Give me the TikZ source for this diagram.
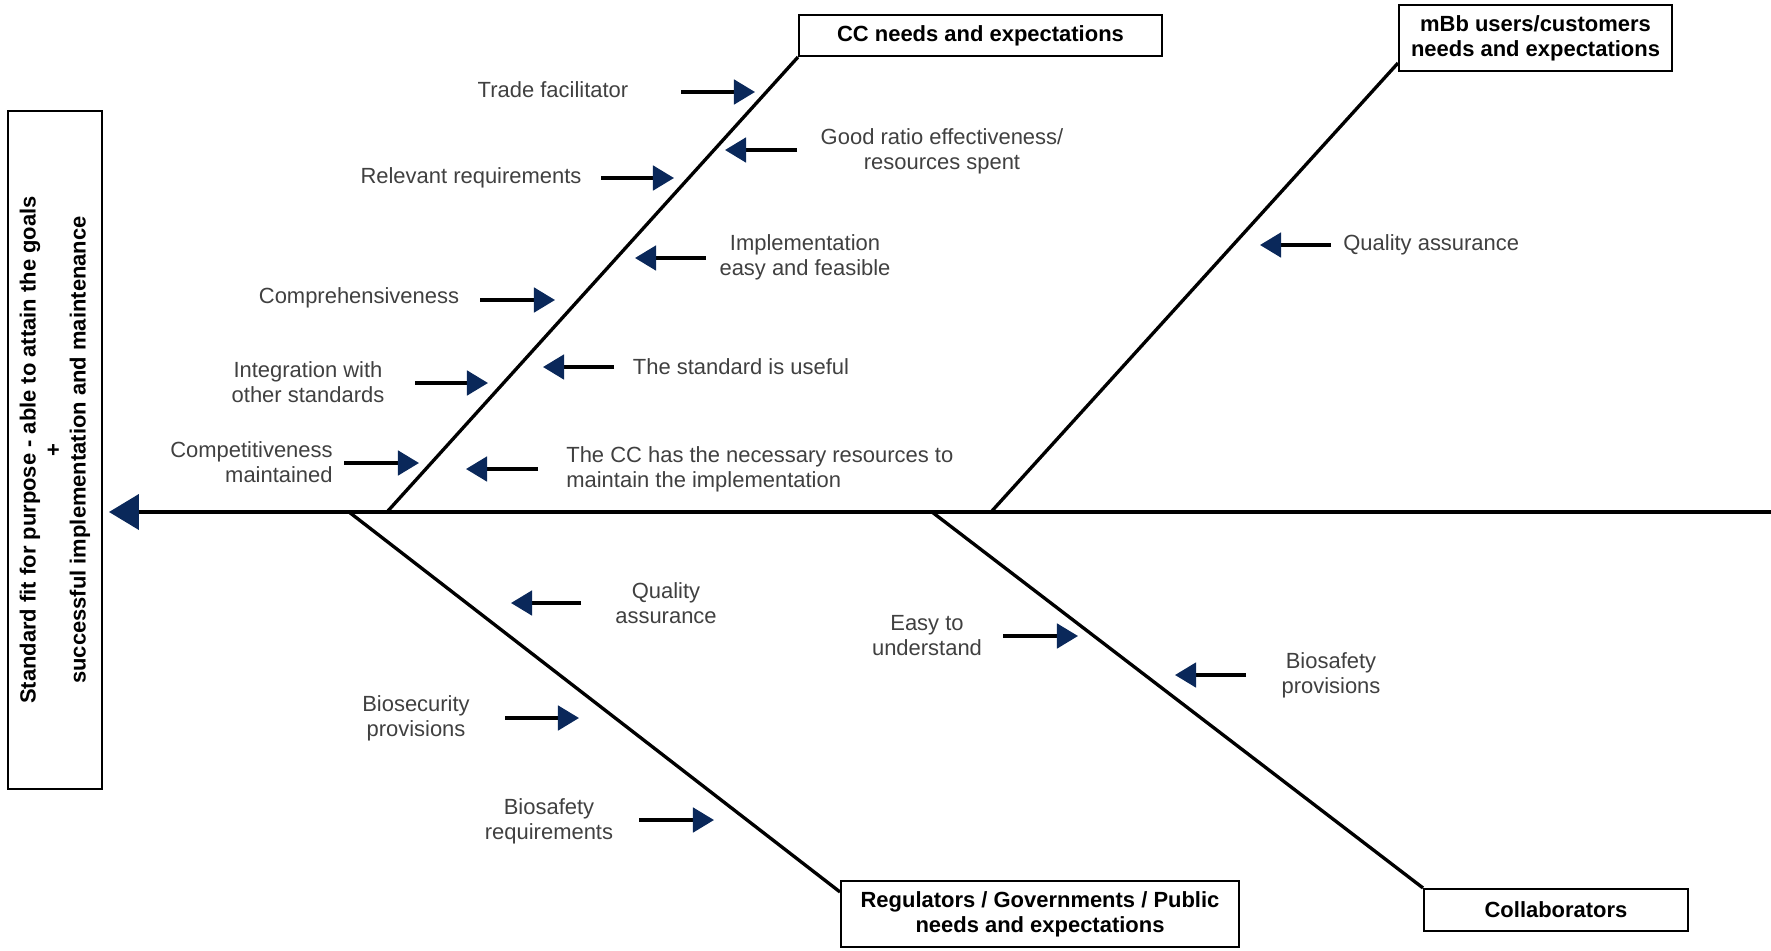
\documentclass[tikz,border=0pt]{standalone}
\usepackage{fontspec}
\setsansfont{Liberation Sans}
\usetikzlibrary{arrows.meta}

\definecolor{navy}{RGB}{10,40,90}

\begin{document}
\begin{tikzpicture}[
    x=0.02cm, y=-0.02cm,
    cause/.style={font=\sffamily\fontsize{12.5}{14.2}\selectfont, text=black!75, align=center, inner sep=0pt},
    group/.style={draw, line width=1.2pt, font=\sffamily\bfseries\fontsize{12.5}{14.2}\selectfont, align=center, inner sep=0pt},
    bone/.style={line width=1.9pt},
    push/.style={-{Triangle[length=12pt, width=14pt, color=navy]}, line width=1.8pt}
]
\useasboundingbox (0,0) rectangle (1771,950);

% effect box and spine
\node[group, rotate=90, minimum width=13.58cm, minimum height=1.88cm] (goal) at (55,450)
    {Standard fit for purpose - able to attain the goals\\+\\successful implementation and maintenance};
\coordinate (tip) at (109,512);
\coordinate (tail) at (1771,512);
\draw[bone, -{Triangle[length=17pt, width=20pt, color=navy]}] (tail) -- (tip);

% category boxes
\node[group, minimum width=7.26cm, minimum height=0.82cm] (cc) at (980.5,35.5) {CC needs and expectations};
\node[group, minimum width=5.46cm, minimum height=1.32cm] (mbb) at (1535.5,38) {mBb users/customers\\needs and expectations};
\node[group, minimum width=7.96cm, minimum height=1.32cm] (reg) at (1040,914) {Regulators / Governments / Public\\needs and expectations};
\node[group, minimum width=5.28cm, minimum height=0.84cm] (collab) at (1556,910) {Collaborators};

% bones
\coordinate (s1) at (387,512);
\coordinate (s2) at (991,512);
\coordinate (s3) at (349,512);
\coordinate (s4) at (932,512);
\draw[bone] (s1) -- (cc.south west);
\draw[bone] (s2) -- ([yshift=0.18cm]mbb.south west);
\draw[bone] (s3) -- ([yshift=-0.24cm]reg.north west);
\draw[bone] (s4) -- (collab.north west);

% CC causes
\node[cause] (trade) at (553,90) {Trade facilitator};
\node[cause] (ratio) at (942,151) {Good ratio effectiveness/\\resources spent};
\node[cause] (relev) at (471,178) {Relevant requirements};
\node[cause] (implem) at (805,257) {Implementation\\easy and feasible};
\node[cause] (compr) at (359,298) {Comprehensiveness};
\node[cause] (integ) at (308,382) {Integration with\\other standards};
\node[cause] (useful) at (741,367) {The standard is useful};
\node[cause, anchor=east, align=right] (compet) at (333,462) {Competitiveness\\maintained};
\node[cause, anchor=west, align=left] (resrc) at (566,469) {The CC has the necessary resources to\\maintain the implementation};

\coordinate (tradeTip) at (755,92);
\coordinate (ratioTip) at (725,150);
\coordinate (relevTip) at (674,178);
\coordinate (implemTip) at (635,258);
\coordinate (comprTip) at (555,300);
\coordinate (integTip) at (488,383);
\coordinate (usefulTip) at (543,367);
\coordinate (competTip) at (419,463);
\coordinate (resrcTip) at (466,469);

\draw[push] (tradeTip) +(-74,0) -- (tradeTip);
\draw[push] (ratioTip) +(72,0) -- (ratioTip);
\draw[push] (relevTip) +(-73,0) -- (relevTip);
\draw[push] (implemTip) +(71,0) -- (implemTip);
\draw[push] (comprTip) +(-75,0) -- (comprTip);
\draw[push] (integTip) +(-73,0) -- (integTip);
\draw[push] (usefulTip) +(71,0) -- (usefulTip);
\draw[push] (competTip) +(-75,0) -- (competTip);
\draw[push] (resrcTip) +(72,0) -- (resrcTip);

% mBb causes
\node[cause, anchor=west] (mbbqa) at (1343,245) {Quality assurance};
\coordinate (mbbqaTip) at (1260,245);
\draw[push] (mbbqaTip) +(71,0) -- (mbbqaTip);

% regulator causes
\node[cause] (regqa) at (666,603) {Quality\\assurance};
\node[cause] (biosec) at (416,718) {Biosecurity\\provisions};
\node[cause] (biosafe) at (549,821) {Biosafety\\requirements};
\coordinate (regqaTip) at (511,603);
\coordinate (biosecTip) at (579,718);
\coordinate (biosafeTip) at (714,820);
\draw[push] (regqaTip) +(70,0) -- (regqaTip);
\draw[push] (biosecTip) +(-74,0) -- (biosecTip);
\draw[push] (biosafeTip) +(-75,0) -- (biosafeTip);

% collaborator causes
\node[cause] (easy) at (927,636) {Easy to\\understand};
\node[cause] (bsprov) at (1331,675) {Biosafety\\provisions};
\coordinate (easyTip) at (1078,636);
\coordinate (bsprovTip) at (1175,675);
\draw[push] (easyTip) +(-75,0) -- (easyTip);
\draw[push] (bsprovTip) +(71,0) -- (bsprovTip);

\end{tikzpicture}
\end{document}
